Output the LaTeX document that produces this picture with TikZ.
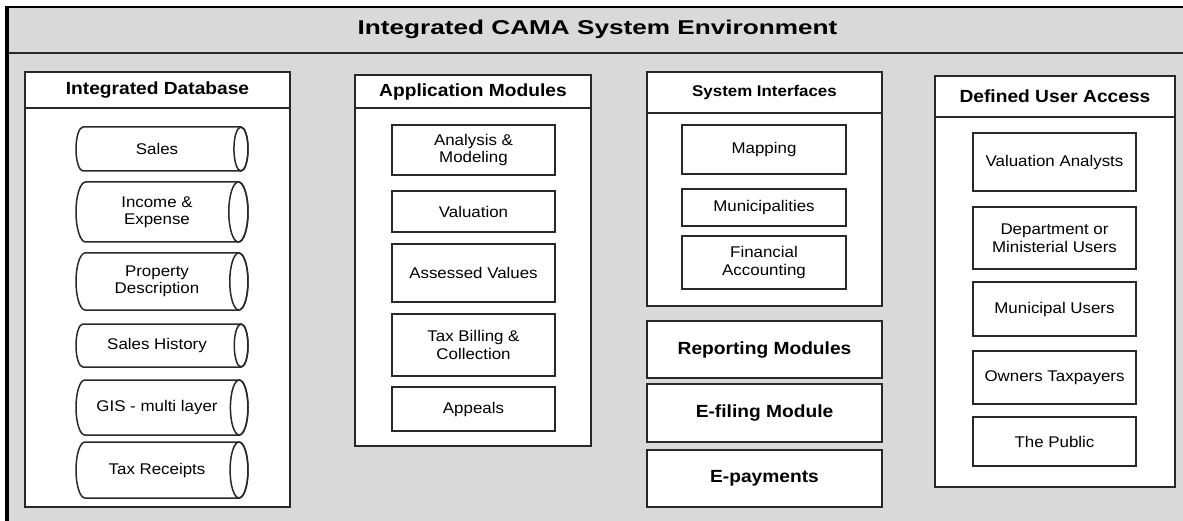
\documentclass[tikz,border=0pt]{standalone}
\usepackage{fontspec}
\setmainfont{Liberation Sans}[FakeStretch=1.09]
\definecolor{bggray}{RGB}{217,217,217}
\definecolor{lncol}{RGB}{40,40,40}
\tikzset{
  ln/.style={draw=lncol, line width=1.5pt},
  wbox/.style={ln, fill=white, rectangle, inner sep=0pt, align=center, font=\fontsize{15.5}{17.5}\selectfont},
  lbl/.style={inner sep=0pt, align=center, font=\fontsize{15.5}{17.5}\selectfont},
  hdr/.style={inner sep=0pt, align=center, font=\fontsize{17.6}{20}\selectfont\bfseries},
  bigbox/.style={wbox, font=\fontsize{17.6}{20}\selectfont\bfseries},
}
\newcommand\bx[7][wbox]{%
  \pgfmathsetmacro\bxcx{(#3+#5)/2}\pgfmathsetmacro\bxcy{(#4+#6)/2}%
  \pgfmathsetmacro\bxw{#5-#3}\pgfmathsetmacro\bxh{#6-#4}%
  \node[#1, minimum width=\bxw pt, minimum height=\bxh pt] (#2) at (\bxcx,\bxcy) {#7};}
\newcommand\cyl[6]{%
  \pgfmathsetmacro\cylh{#5-#3}\pgfmathsetmacro\cylrx{0.16*\cylh}%
  \pgfmathsetmacro\cylry{\cylh/2}\pgfmathsetmacro\cylym{(#3+#5)/2}%
  \draw[ln, fill=white] (#2+\cylrx,#3) -- (#4-\cylrx,#3)
     arc[start angle=90, end angle=-90, x radius=\cylrx pt, y radius=\cylry pt]
     -- (#2+\cylrx,#5)
     arc[start angle=270, end angle=90, x radius=\cylrx pt, y radius=\cylry pt] -- cycle;
  \draw[ln] (#4-\cylrx,\cylym) ellipse[x radius=\cylrx pt, y radius=\cylry pt];
  \node[lbl] (#1) at (157,\cylym) {#6};}
\begin{document}
\begin{tikzpicture}[x=1pt, y=-1pt]
\useasboundingbox (0,0) rectangle (1183,521);
% outer environment frame
\fill[bggray] (7,7) rectangle (1183,521);
\draw[ln] (7,53) -- (1183,53);
\draw[black, line width=2pt] (6,7) -- (1183,7);
\draw[black, line width=3.5pt] (7,6) -- (7,521);
\node[inner sep=0pt, font=\fontsize{20}{24}\selectfont\bfseries] (title) at (597.5,29.5)
  {\scalebox{1.2}[1]{Integrated CAMA System Environment}};

% Integrated Database
\bx{idb}{25}{72}{290}{507}{}
\draw[ln] (idb.west |- 0,108) -- (idb.east |- 0,108);
\node[hdr] (idbh) at (157.5,90) {Integrated Database};
\cyl{sales}{76}{127}{248}{171}{Sales}
\cyl{income}{76}{182}{248}{242}{Income \&\\Expense}
\cyl{prop}{76}{253}{248}{310}{Property\\Description}
\cyl{hist}{76}{324}{248}{367}{Sales History}
\cyl{gis}{76}{380}{248}{435}{GIS - multi layer}
\cyl{taxr}{76}{442}{248}{498}{Tax Receipts}

% Application Modules
\bx{am}{355}{75}{591}{446}{}
\draw[ln] (am.west |- 0,108) -- (am.east |- 0,108);
\node[hdr] (amh) at (473,91.5) {Application Modules};
\bx{anal}{392}{125}{555}{175}{Analysis \&\\Modeling}
\bx{val}{392}{191}{555}{232}{Valuation}
\bx{assv}{392}{244}{555}{302}{Assessed Values}
\bx{bill}{392}{314}{555}{376}{Tax Billing \&\\Collection}
\bx{appe}{392}{387}{555}{431}{Appeals}

% System Interfaces
\bx{si}{647}{72}{882}{306}{}
\draw[ln] (si.west |- 0,113) -- (si.east |- 0,113);
\node[hdr, font=\fontsize{15.5}{18}\selectfont\bfseries] (sih) at (764.5,92.5) {System Interfaces};
\bx{mapp}{682}{125}{846}{174}{Mapping}
\bx{muni}{682}{189}{846}{226}{Municipalities}
\bx{fin}{682}{236}{846}{289}{Financial\\Accounting}
\bx[bigbox]{rep}{647}{321}{882}{378}{Reporting Modules}
\bx[bigbox]{efil}{647}{384}{882}{442}{E-filing Module}
\bx[bigbox]{epay}{647}{450}{882}{507}{E-payments}

% Defined User Access
\bx{dua}{935}{76}{1175}{487}{}
\draw[ln] (dua.west |- 0,117) -- (dua.east |- 0,117);
\node[hdr] (duah) at (1055,96.5) {Defined User Access};
\bx{vana}{973}{133}{1136}{191}{Valuation Analysts}
\bx{dept}{973}{207}{1136}{269}{Department or\\Ministerial Users}
\bx{muse}{973}{282}{1136}{336}{Municipal Users}
\bx{own}{973}{351}{1136}{404}{Owners Taxpayers}
\bx{pub}{973}{417}{1136}{466}{The Public}
\end{tikzpicture}
\end{document}
